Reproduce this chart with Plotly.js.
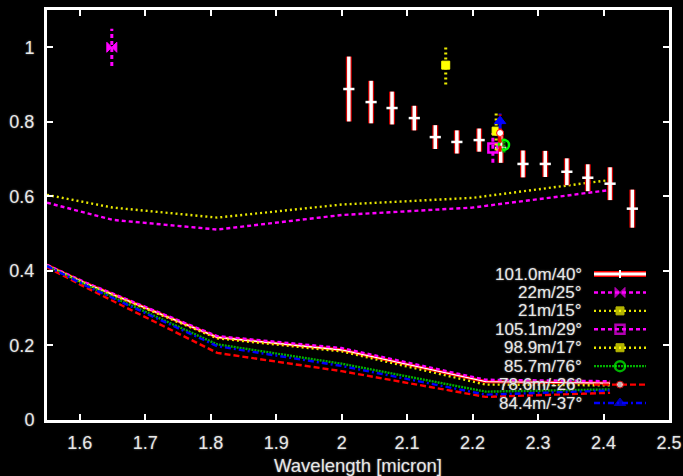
<!DOCTYPE html>
<html>
<head>
<meta charset="utf-8">
<script src="https://cdn.plot.ly/plotly-3.0.1.min.js"></script>
<style>
  html, body { margin: 0; padding: 0; background: #000; }
  #chart { width: 683px; height: 476px; }
</style>
</head>
<body>
<div id="chart"></div>
<script>
// ---- Axis ticks ----
const xTickVals = [1.6, 1.7, 1.8, 1.9, 2.0, 2.1, 2.2, 2.3, 2.4, 2.5];
const xTickText = ['1.6', '1.7', '1.8', '1.9', '2', '2.1', '2.2', '2.3', '2.4', '2.5'];
const yTickVals = [0, 0.2, 0.4, 0.6, 0.8, 1.0];
const yTickText = ['0', '0.2', '0.4', '0.6', '0.8', '1'];

// ---- Baseline labels ----
const seriesNames = ['101.0m/40°', '22m/25°', '21m/15°', '105.1m/29°',
                     '98.9m/17°', '85.7m/76°', '78.6m/-26°', '84.4m/-37°'];

// ---- 101.0m/40° spectrally dispersed visibilities ----
const wl101 = [2.011, 2.045, 2.077, 2.111, 2.143, 2.176, 2.210,
               2.243, 2.277, 2.311, 2.344, 2.376, 2.410, 2.444];
const vis101 = [0.888, 0.853, 0.837, 0.810, 0.759, 0.746, 0.751,
                0.730, 0.687, 0.687, 0.666, 0.650, 0.634, 0.567];
const err101 = [0.087, 0.057, 0.044, 0.033, 0.032, 0.031, 0.031,
                0.040, 0.036, 0.035, 0.036, 0.036, 0.044, 0.051];

// ---- Single broadband measurements (22m, 21m, 105.1m, 98.9m, 85.7m, 78.6m, 84.4m) ----
const wlSingle  = [1.649, 2.159, 2.231, 2.236, 2.248, 2.242, 2.242];
const visSingle = [1.000, 0.952, 0.730, 0.775, 0.738, 0.770, 0.802];
const errSingle = [0.050, 0.052, 0.040, 0.052, 0.020, 0.050, 0.020];

// ---- Model visibility curves ----
const modelWlShort = [1.55, 1.65, 1.81, 2.00, 2.20, 2.41];
const model22  = [0.583, 0.537, 0.511, 0.550, 0.570, 0.617];
const model21  = [0.604, 0.570, 0.543, 0.578, 0.596, 0.644];

const modelWlLong = [1.55, 1.61, 1.81, 2.00, 2.22, 2.41];
const model101 = [0.415, 0.366, 0.222, 0.188, 0.103, 0.099];
const model105 = [0.416, 0.368, 0.225, 0.193, 0.108, 0.104];
const model98  = [0.414, 0.365, 0.219, 0.184, 0.095, 0.093];
const model85  = [0.413, 0.362, 0.203, 0.151, 0.076, 0.082];
const model78  = [0.410, 0.355, 0.180, 0.131, 0.062, 0.073];
const model84  = [0.413, 0.360, 0.198, 0.145, 0.068, 0.079];

// ---- Styles for each baseline ----
const styles = [
  { color: '#ffffff', edge: '#ff0000', dash: 'solid', symbol: 'line-ew', size: 8, fill: '#ffffff' },
  { color: '#ff00ff', dash: '4px,3px', symbol: 'bowtie', size: 10, fill: '#ff00ff' },
  { color: '#e8e800', dash: '2px,3px', symbol: 'square', size: 8, fill: '#ffff00' },
  { color: '#ff00ff', dash: '4px,3px', symbol: 'square-open', size: 9, fill: '#ff00ff' },
  { color: '#e8e800', dash: '2px,3px', symbol: 'square', size: 8, fill: '#ffff00' },
  { color: '#00b000', dash: '2px,1px', symbol: 'circle-open', size: 10, fill: '#00ff00' },
  { color: '#ff0000', dash: '6px,3px', symbol: 'circle', size: 7, fill: '#ffffff' },
  { color: '#0000ff', dash: '6px,3px,2px,3px', symbol: 'triangle-up', size: 10, fill: '#0000ff' }
];

const traces = [];

function errorSegments(xs, ys, es) {
  const ex = [], ey = [];
  for (let i = 0; i < xs.length; i++) {
    ex.push(xs[i], xs[i], null);
    ey.push(ys[i] - es[i], ys[i] + es[i], null);
  }
  return { x: ex, y: ey };
}

// Model curves (long baselines first, short baselines above)
const longModels = [model101, model105, model98, model85, model78, model84];
const longIdx = [0, 3, 4, 5, 6, 7];
longModels.forEach((m, k) => {
  const st = styles[longIdx[k]];
  if (longIdx[k] === 0) {
    traces.push({ x: modelWlLong, y: m, mode: 'lines', hoverinfo: 'skip',
      line: { color: st.edge, width: 3.2 } });
    traces.push({ x: modelWlLong, y: m, mode: 'lines', hoverinfo: 'skip',
      line: { color: st.color, width: 1.4 } });
  } else {
    traces.push({ x: modelWlLong, y: m, mode: 'lines', hoverinfo: 'skip',
      line: { color: st.color, width: 2.4, dash: st.dash } });
  }
});
traces.push({ x: modelWlShort, y: model22, mode: 'lines', hoverinfo: 'skip',
  line: { color: styles[1].color, width: 2.4, dash: styles[1].dash } });
traces.push({ x: modelWlShort, y: model21, mode: 'lines', hoverinfo: 'skip',
  line: { color: styles[2].color, width: 2.4, dash: styles[2].dash } });

// 101.0m/40° dispersed data: white error bars outlined in red
const seg101 = errorSegments(wl101, vis101, err101);
traces.push({ x: seg101.x, y: seg101.y, mode: 'lines', hoverinfo: 'skip',
  line: { color: '#d00000', width: 6 } });
traces.push({ x: seg101.x, y: seg101.y, mode: 'lines', hoverinfo: 'skip',
  line: { color: '#ffffff', width: 3.5 } });
traces.push({ x: wl101, y: vis101, mode: 'markers', hoverinfo: 'skip',
  marker: { symbol: 'line-ew', size: 8, line: { color: '#ffffff', width: 2.5 } } });

// Single measurements with their error bars
for (let i = 0; i < wlSingle.length; i++) {
  const st = styles[i + 1];
  const seg = errorSegments([wlSingle[i]], [visSingle[i]], [errSingle[i]]);
  traces.push({ x: seg.x, y: seg.y, mode: 'lines', hoverinfo: 'skip',
    line: { color: st.color, width: 3, dash: st.dash } });
  const open = st.symbol.indexOf('open') >= 0;
  traces.push({ x: [wlSingle[i]], y: [visSingle[i]], mode: 'markers', hoverinfo: 'skip',
    marker: { symbol: st.symbol, size: st.size, color: st.fill,
      line: { color: i === 5 ? '#ff0000' : st.fill, width: open ? 2.5 : 1 } } });
}

// ---- Key (drawn on a pixel-scaled overlay) ----
const keyTop = 274, keyStep = 18.43;
const keyTextRight = 583, keyX0 = 594, keyX1 = 646, keyXm = 620;
const annotations = [];
seriesNames.forEach((name, i) => {
  const yRow = keyTop + i * keyStep;
  const st = styles[i];
  annotations.push({ xref: 'x2', yref: 'y2', x: keyTextRight, y: yRow, text: name,
    showarrow: false, xanchor: 'right', yanchor: 'middle', borderpad: 0,
    font: { size: 17, color: '#e8e8e8', shadow: '0px 0px 2px #777' } });
  if (i === 0) {
    traces.push({ x: [keyX0, keyX1], y: [yRow, yRow], xaxis: 'x2', yaxis: 'y2', mode: 'lines',
      hoverinfo: 'skip', line: { color: '#ff0000', width: 6 } });
    traces.push({ x: [keyX0, keyX1], y: [yRow, yRow], xaxis: 'x2', yaxis: 'y2', mode: 'lines',
      hoverinfo: 'skip', line: { color: '#ffffff', width: 3 } });
    traces.push({ x: [keyXm, keyXm], y: [yRow - 4, yRow + 4], xaxis: 'x2', yaxis: 'y2', mode: 'lines',
      hoverinfo: 'skip', line: { color: '#ffffff', width: 2 } });
  } else {
    const open = st.symbol.indexOf('open') >= 0;
    traces.push({ x: [keyX0, keyXm, keyX1], y: [yRow, yRow, yRow], xaxis: 'x2', yaxis: 'y2',
      mode: 'lines+markers', hoverinfo: 'skip',
      line: { color: st.color, width: 2.4, dash: st.dash },
      marker: { symbol: st.symbol, size: [0, st.size, 0], color: st.fill,
        line: { color: i === 6 ? '#ff0000' : st.fill, width: open ? 2.5 : 1 } } });
  }
});

const axisCommon = {
  showgrid: false, zeroline: false,
  showline: true, linecolor: '#ffffff', linewidth: 3, mirror: 'ticks',
  ticks: 'inside', ticklen: 6, tickwidth: 2, tickcolor: '#ffffff',
  tickfont: { size: 18, color: '#e8e8e8', shadow: '0px 0px 2px #777' }
};

const layout = {
  width: 683, height: 476,
  paper_bgcolor: '#000000', plot_bgcolor: '#000000',
  margin: { l: 47, r: 14, t: 10, b: 56 },
  showlegend: false,
  font: { family: 'Liberation Sans, Arial, sans-serif', size: 18, color: '#e8e8e8' },
  xaxis: Object.assign({}, axisCommon, {
    range: [1.55, 2.5], tickmode: 'array', tickvals: xTickVals, ticktext: xTickText,
    ticklabelstandoff: 4,
    title: { text: 'Wavelength [micron]', standoff: 8,
      font: { size: 18.5, color: '#e8e8e8', shadow: '0px 0px 2px #777' } }
  }),
  yaxis: Object.assign({}, axisCommon, {
    range: [0, 1.1], tickmode: 'array', tickvals: yTickVals, ticktext: yTickText,
    ticklabelstandoff: 6
  }),
  xaxis2: { overlaying: 'x', range: [47, 669], visible: false, fixedrange: true },
  yaxis2: { overlaying: 'y', range: [420, 10], visible: false, fixedrange: true },
  annotations: annotations
};

Plotly.newPlot('chart', traces, layout, { staticPlot: true, displayModeBar: false });
</script>
</body>
</html>
